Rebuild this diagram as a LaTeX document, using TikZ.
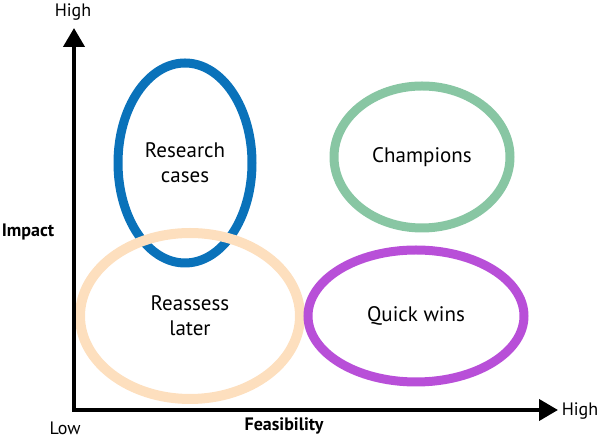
\documentclass[tikz,border=0pt]{standalone}
\usepackage{fontspec}
\setmainfont{PT Sans}
\usepackage{xcolor}
\usepackage{tikz}
\usetikzlibrary{arrows.meta,shapes.geometric}
\definecolor{azul}{RGB}{10,114,186}
\definecolor{verde}{RGB}{136,198,163}
\definecolor{laranja}{RGB}{253,223,190}
\definecolor{roxo}{RGB}{184,79,216}
\tikzset{
  ring/.style={ellipse,line width=4.5pt,inner sep=0pt,align=center,
    font=\fontsize{10.5}{12.5}\selectfont},
  axis/.style={{Triangle[length=9.5pt,width=10.5pt]}-{Triangle[length=9.5pt,width=10.5pt]},
    line width=2pt,line join=miter},
  axlabel/.style={inner sep=0pt,font=\fontsize{9}{10}\selectfont},
  axtitle/.style={axlabel,font=\fontsize{9}{10}\selectfont\bfseries}
}
\begin{document}
\begin{tikzpicture}[x=0.5pt,y=-0.5pt]
\useasboundingbox (0,0) rectangle (600,442);
\node[ring,draw=azul,minimum width=67pt,minimum height=100pt] (research) at (185,163) {Research\\cases};
\node[ring,draw=verde,minimum width=88pt,minimum height=71pt] (champions) at (422,157) {Champions};
\node[ring,draw=laranja,line width=5pt,minimum width=110pt,minimum height=83pt] (reassess) at (190,316) {Reassess\\later};
\node[ring,draw=roxo,minimum width=108pt,minimum height=66pt] (quick) at (416,316) {Quick wins};
\coordinate (origin) at (74,410);
\coordinate (ytip) at (74,28);
\coordinate (xtip) at (558,410);
\draw[axis] (ytip) -- (origin) -- (xtip);
\node[axlabel] (yhigh) at (73,12) {High};
\node[axlabel] (xhigh) at (580,411) {High};
\node[axlabel] (low) at (65,428) {Low};
\node[axtitle] (impact) at (28,232) {Impact};
\node[axtitle] (feas) at (284,426) {Feasibility};
\end{tikzpicture}
\end{document}
